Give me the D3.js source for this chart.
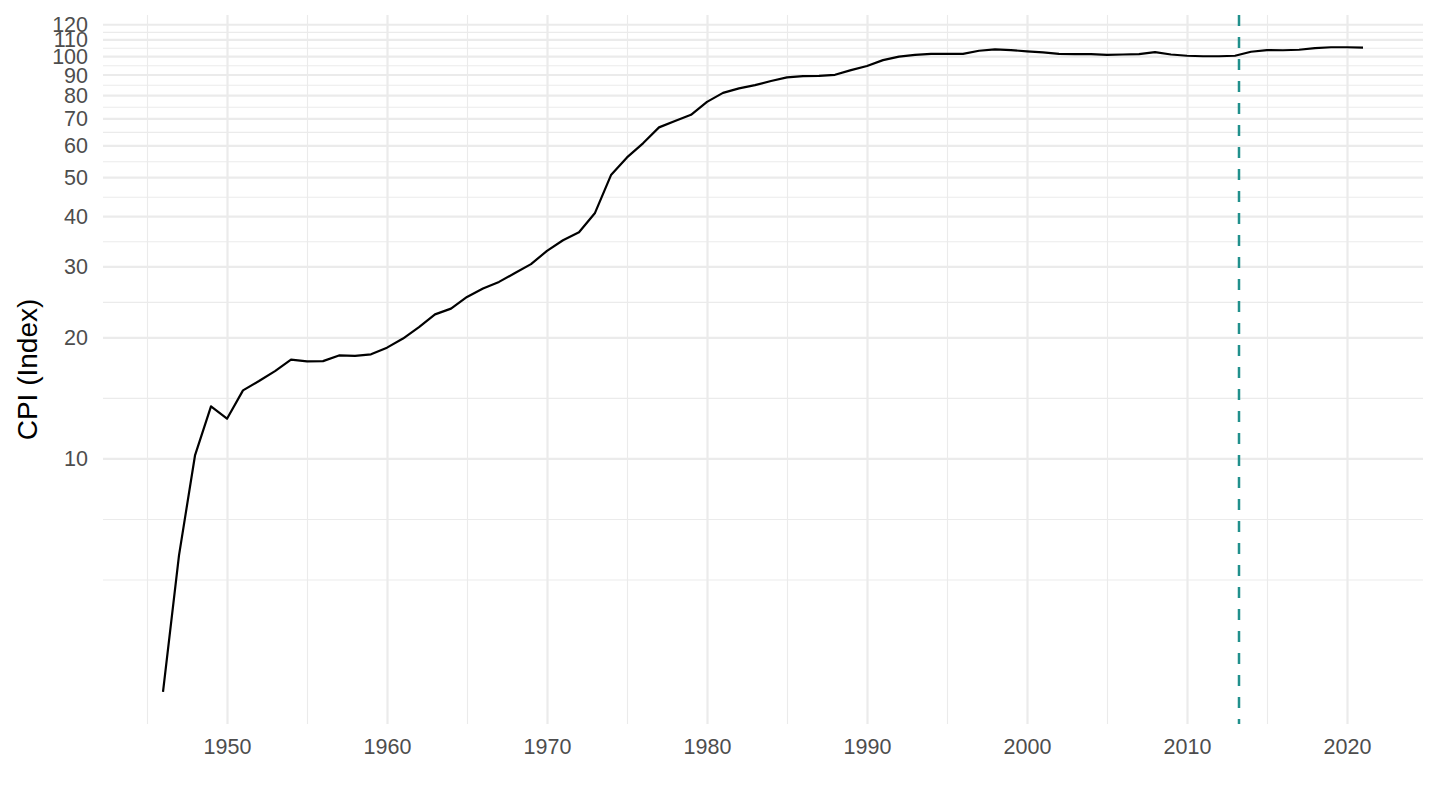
<!DOCTYPE html>
<html>
<head>
<meta charset="utf-8">
<script src="https://cdn.jsdelivr.net/npm/d3@7"></script>
<style>
  html, body { margin: 0; padding: 0; background: #fff; }
  svg text { font-family: "Liberation Sans", Arial, sans-serif; }
  .axis .domain, .axis .tick line { display: none; }
  .grid .domain { display: none; }
  .grid text { display: none; }
</style>
</head>
<body>
<div id="chart"></div>
<script>
// CPI index, annual values
const years = [1946, 1947, 1948, 1949, 1950, 1951, 1952, 1953, 1954, 1955,
  1956, 1957, 1958, 1959, 1960, 1961, 1962, 1963, 1964, 1965,
  1966, 1967, 1968, 1969, 1970, 1971, 1972, 1973, 1974, 1975,
  1976, 1977, 1978, 1979, 1980, 1981, 1982, 1983, 1984, 1985,
  1986, 1987, 1988, 1989, 1990, 1991, 1992, 1993, 1994, 1995,
  1996, 1997, 1998, 1999, 2000, 2001, 2002, 2003, 2004, 2005,
  2006, 2007, 2008, 2009, 2010, 2011, 2012, 2013, 2014, 2015,
  2016, 2017, 2018, 2019, 2020, 2021];

const cpi = [2.63, 5.74, 10.17, 13.47, 12.55, 14.76, 15.57, 16.48, 17.6, 17.42,
  17.45, 18.03, 17.98, 18.14, 18.85, 19.86, 21.2, 22.8, 23.57, 25.2,
  26.43, 27.46, 28.9, 30.4, 32.8, 34.85, 36.5, 40.75, 50.6, 56.0,
  60.7, 66.5, 69.0, 71.45, 76.95, 81.0, 83.1, 84.7, 86.7, 88.5,
  89.2, 89.3, 89.85, 92.3, 94.5, 97.7, 99.7, 100.7, 101.3, 101.3,
  101.3, 103.1, 103.9, 103.5, 102.7, 102.1, 101.3, 101.1, 101.1, 100.7,
  100.9, 101.1, 102.3, 100.9, 100.2, 99.9, 99.9, 100.2, 102.5, 103.5,
  103.4, 103.7, 104.7, 105.2, 105.2, 105.0];

// y breaks (labelled) and x breaks
const yBreaks = [10, 20, 30, 40, 50, 60, 70, 80, 90, 100, 110, 120];
const xBreaks = [1950, 1960, 1970, 1980, 1990, 2000, 2010, 2020];

// vertical marker (base year)
const markerYear = 2013.25;

const yTitle = "CPI (Index)";

const data = years.map((y, i) => ({ year: y, value: cpi[i] }));

// Layout
const W = 1440, H = 810;
const margin = { top: 15, right: 17, bottom: 86, left: 103 };
const width = W - margin.left - margin.right,
    height = H - margin.top - margin.bottom;

const svg = d3.select("#chart").append("svg")
    .attr("width", W)
    .attr("height", H);

const g = svg.append("g")
    .attr("transform", `translate(${margin.left},${margin.top})`);

// Scales, with ggplot-style 5% expansion
const xExt = d3.extent(years);
const xPad = (xExt[1] - xExt[0]) * 0.05;
const x = d3.scaleLinear()
    .domain([xExt[0] - xPad, xExt[1] + xPad])
    .range([0, width]);

const yLog = d3.extent(cpi).map(Math.log10);
const yPad = (yLog[1] - yLog[0]) * 0.05;
const y = d3.scaleLog()
    .domain([Math.pow(10, yLog[0] - yPad), Math.pow(10, yLog[1] + yPad)])
    .range([height, 0]);

// Minor breaks: midpoints between majors (in transformed space), plus one extra step outside
function minorBreaks(majors, tf, inv, dom) {
  const b = majors.map(tf);
  const bd = b[1] - b[0];
  const lo = tf(dom[0]), hi = tf(dom[1]);
  if (lo < b[0]) b.unshift(b[0] - bd);
  if (hi > b[b.length - 1]) b.push(b[b.length - 1] + bd);
  const out = [];
  for (let i = 0; i < b.length; i++) {
    out.push(b[i]);
    if (i < b.length - 1) out.push((b[i] + b[i + 1]) / 2);
  }
  return out.filter(v => v >= lo && v <= hi)
    .map(inv)
    .filter(v => !majors.some(m => Math.abs(m - v) < 1e-6));
}

const yMinor = minorBreaks(yBreaks, Math.log10, v => Math.pow(10, v), y.domain());
const xMinor = minorBreaks(xBreaks, v => v, v => v, x.domain());

const gridColor = "#EBEBEB";

// Minor grid
g.append("g")
    .attr("class", "grid")
    .call(d3.axisLeft(y).tickValues(yMinor).tickSize(-width).tickFormat(""))
    .selectAll("line")
    .attr("stroke", gridColor)
    .attr("stroke-width", 1.1);

g.append("g")
    .attr("class", "grid")
    .attr("transform", `translate(0,${height})`)
    .call(d3.axisBottom(x).tickValues(xMinor).tickSize(-height).tickFormat(""))
    .selectAll("line")
    .attr("stroke", gridColor)
    .attr("stroke-width", 1.1);

// Major grid
g.append("g")
    .attr("class", "grid")
    .call(d3.axisLeft(y).tickValues(yBreaks).tickSize(-width).tickFormat(""))
    .selectAll("line")
    .attr("stroke", gridColor)
    .attr("stroke-width", 2.2);

g.append("g")
    .attr("class", "grid")
    .attr("transform", `translate(0,${height})`)
    .call(d3.axisBottom(x).tickValues(xBreaks).tickSize(-height).tickFormat(""))
    .selectAll("line")
    .attr("stroke", gridColor)
    .attr("stroke-width", 2.2);

// The CPI line
const line = d3.line()
    .x(d => x(d.year))
    .y(d => y(d.value));

g.append("path")
    .datum(data)
    .attr("fill", "none")
    .attr("stroke", "#000")
    .attr("stroke-width", 2.2)
    .attr("stroke-linejoin", "round")
    .attr("d", line);

// Dashed marker
g.append("line")
    .attr("x1", x(markerYear))
    .attr("x2", x(markerYear))
    .attr("y1", 0)
    .attr("y2", height)
    .attr("stroke", "#21908C")
    .attr("stroke-width", 2.5)
    .attr("stroke-dasharray", "11,11");

// Axes (labels only, like theme_minimal)
const xAxis = g.append("g")
    .attr("class", "axis")
    .attr("transform", `translate(0,${height})`)
    .call(d3.axisBottom(x).tickValues(xBreaks).tickFormat(d3.format("d")).tickSize(0));
xAxis.selectAll("text")
    .attr("y", 15)
    .attr("dy", "0.71em")
    .attr("fill", "#4D4D4D")
    .style("font-size", "21.5px");

const yAxis = g.append("g")
    .attr("class", "axis")
    .call(d3.axisLeft(y).tickValues(yBreaks).tickFormat(d3.format("d")).tickSize(0));
yAxis.selectAll("text")
    .attr("x", -15)
    .attr("dy", "0.35em")
    .attr("fill", "#4D4D4D")
    .style("font-size", "21.5px");

// Y title
svg.append("text")
    .attr("transform", `translate(36.5,${margin.top + height / 2}) rotate(-90)`)
    .attr("text-anchor", "middle")
    .attr("fill", "#000")
    .style("font-size", "28px")
    .text(yTitle);
</script>
</body>
</html>
